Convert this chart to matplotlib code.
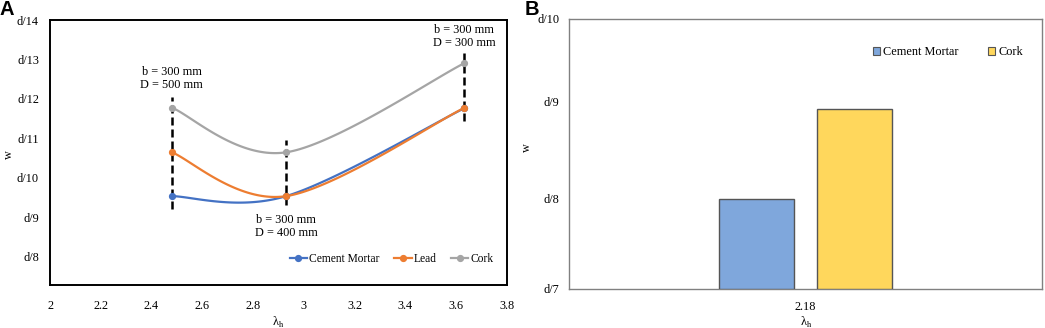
import numpy as np
import matplotlib
matplotlib.use("Agg")
import matplotlib.pyplot as plt
from matplotlib.lines import Line2D
from matplotlib.patches import Patch

plt.rcParams['font.family'] = ['Liberation Serif', 'DejaVu Serif']

# ---------------- data ----------------
lam_h = [2.48, 2.93, 3.63]
cement = [9.54, 9.54, 11.76]
lead = [10.65, 9.54, 11.77]
cork = [11.78, 10.65, 12.90]
series_names = ["Cement Mortar", "Lead", "Cork"]

a_yticks = [8, 9, 10, 11, 12, 13, 14]
a_yticklabels = ["d/8", "d/9", "d/10", "d/11", "d/12", "d/13", "d/14"]
a_xticks = [2, 2.2, 2.4, 2.6, 2.8, 3, 3.2, 3.4, 3.6, 3.8]
a_xticklabels = ["2", "2.2", "2.4", "2.6", "2.8", "3", "3.2", "3.4", "3.6", "3.8"]

dash_top = [12.05, 10.96, 13.16]
dash_bot = [9.22, 9.32, 11.44]
ann_texts = ["b = 300 mm\nD = 500 mm", "b = 300 mm\nD = 400 mm", "b = 300 mm\nD = 300 mm"]
ann_y = [12.52, 8.77, 13.59]

b_category = ["2.18"]
b_names = ["Cement Mortar", "Cork"]
b_values = [8.0, 9.0]
b_yticks = [7, 8, 9.08, 10]
b_yticklabels = ["d/7", "d/8", "d/9", "d/10"]

# ---------------- helpers ----------------
def excel_smooth(xs, ys, n=60):
    P = np.column_stack([xs, ys]).astype(float)
    m = len(P)
    out = []
    for i in range(m - 1):
        p0 = P[i]
        p3 = P[i + 1]
        pm = P[i - 1] if i > 0 else P[i]
        pp = P[i + 2] if i + 2 < m else P[i + 1]
        c1 = p0 + (p3 - pm) / 6.0
        c2 = p3 - (pp - p0) / 6.0
        t = np.linspace(0, 1, n)[:, None]
        seg = ((1 - t) ** 3) * p0 + 3 * ((1 - t) ** 2) * t * c1 + 3 * (1 - t) * t ** 2 * c2 + t ** 3 * p3
        out.append(seg if i == 0 else seg[1:])
    arr = np.vstack(out)
    return arr[:, 0], arr[:, 1]

W, H = 1045, 328
fig = plt.figure(figsize=(W / 100, H / 100), dpi=100)

fs = 8.8

# ---------------- panel A ----------------
axA = fig.add_axes([50 / W, 1 - 285 / H, (507 - 50) / W, (285 - 20) / H])
colors = ["#4472C4", "#ED7D31", "#A5A5A5"]
for name, ys, c in zip(series_names, [cement, lead, cork], colors):
    sx, sy = excel_smooth(lam_h, ys)
    axA.plot(sx, sy, color=c, lw=1.6, zorder=3)
    axA.plot(lam_h, ys, 'o', color=c, ms=4.2, zorder=4)

axA.vlines(lam_h, dash_bot, dash_top, colors='black', lw=1.8,
           linestyles=[(0, (3.2, 1.6))], zorder=2)
for x, y, t in zip(lam_h, ann_y, ann_texts):
    axA.text(x, y, t, ha='center', va='center', fontsize=fs, linespacing=1.15)

axA.set_xlim(2, 3.8)
axA.set_ylim(7.29, 14)
axA.set_xticks(a_xticks)
axA.set_xticklabels(a_xticklabels)
axA.set_yticks(a_yticks)
axA.set_yticklabels(a_yticklabels)
axA.tick_params(axis='both', length=0, labelsize=fs)
axA.tick_params(axis='y', pad=8)
axA.tick_params(axis='x', pad=11)
for s in axA.spines.values():
    s.set_color('black')
    s.set_linewidth(1.4)
fig.text(278 / W, 1 - 322 / H, "λ$_\\mathregular{h}$", fontsize=fs, ha='center', va='center')
fig.text(9 / W, 1 - 155 / H, "w", fontsize=fs, ha='center', va='center', rotation=90)

handlesA = [Line2D([0], [0], color=c, lw=1.6, marker='o', ms=4.2) for c in colors]
axA.legend(handlesA, series_names, loc='center right', bbox_to_anchor=(0.97, 0.098),
           ncol=3, frameon=False, fontsize=8.3, handlelength=1.5, handletextpad=0.15,
           columnspacing=1.3, borderpad=0, borderaxespad=0)

fig.text(0 / W, 1 - 0 / H, "A", fontsize=14.5, fontweight='bold',
         family='Liberation Sans', ha='left', va='top')

# ---------------- panel B ----------------
axB = fig.add_axes([569 / W, 1 - 289 / H, (1042 - 569) / W, (289 - 19) / H])
bcolors = ["#7FA7DC", "#FFD75C"]
xc = np.arange(len(b_category))
bw = 75 / 473 * 3.0  # width relative to category span
offsets = [-0.5 * bw - 0.07, 0.5 * bw + 0.07]
for name, v, c, off in zip(b_names, b_values, bcolors, offsets):
    axB.bar(xc + off, [v - 7], bottom=7, width=bw, color=c, edgecolor='#555555',
            linewidth=1.0, label=name, zorder=3)
axB.set_xlim(-1.5, 1.5)
axB.set_ylim(7, 10)
axB.set_xticks(xc)
axB.set_xticklabels(b_category)
axB.set_yticks(b_yticks)
axB.set_yticklabels(b_yticklabels)
axB.tick_params(axis='both', length=0, labelsize=fs)
axB.tick_params(axis='y', pad=7)
axB.tick_params(axis='x', pad=9)
for s in axB.spines.values():
    s.set_color('#808080')
    s.set_linewidth(1.0)
fig.text(806 / W, 1 - 322 / H, "λ$_\\mathregular{h}$", fontsize=fs, ha='center', va='center')
fig.text(527 / W, 1 - 148 / H, "w", fontsize=fs, ha='center', va='center', rotation=90)

handlesB = [Patch(facecolor=c, edgecolor='#555555', linewidth=0.8) for c in bcolors]
axB.legend(handlesB, b_names, loc='center right', bbox_to_anchor=(0.96, 0.878),
           ncol=2, frameon=False, fontsize=fs, handlelength=0.6, handleheight=0.6,
           handletextpad=0.25, columnspacing=2.4, borderpad=0, borderaxespad=0)

fig.text(525 / W, 1 - 0 / H, "B", fontsize=14.5, fontweight='bold',
         family='Liberation Sans', ha='left', va='top')

fig.savefig("out.png", dpi=100)
